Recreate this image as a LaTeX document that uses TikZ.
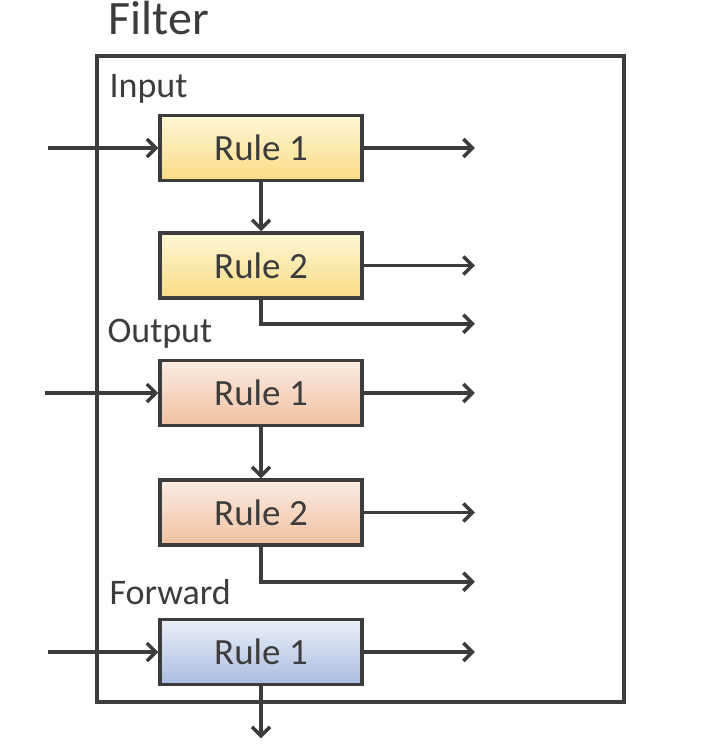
\documentclass[tikz,border=0pt]{standalone}
\usepackage{fontspec}
\setmainfont{Carlito}
\usetikzlibrary{positioning,arrows.meta}
\definecolor{ink}{HTML}{3C3C3C}
\definecolor{yellowtop}{HTML}{FFF6D5}
\definecolor{yellowbot}{HTML}{F8DC84}
\definecolor{orangetop}{HTML}{FBECE3}
\definecolor{orangebot}{HTML}{EFC1A1}
\definecolor{bluetop}{HTML}{EBEFF8}
\definecolor{bluebot}{HTML}{A9BCDF}
\begin{document}
\begin{tikzpicture}[
                x=1pt, y=-1pt,
                node distance=49pt,
                every node/.style={text=ink},
                >={Straight Barb[length=9pt,width=18pt]},
                rule/.style={
                    draw=ink,
                    line width=3.5pt,
                    minimum width=202pt,
                    minimum height=65pt,
                    inner sep=0pt,
                    font=\fontsize{37}{44}\selectfont
                },
                inrule/.style={rule, top color=yellowtop, bottom color=yellowbot},
                outrule/.style={rule, top color=orangetop, bottom color=orangebot},
                fwdrule/.style={rule, top color=bluetop, bottom color=bluebot},
                title/.style={anchor=base west, font=\fontsize{36}{43}\selectfont},
                arrow/.style={->, line width=3.5pt, draw=ink}
            ]
                \useasboundingbox (0,0) rectangle (708,746);
                % rahmen
                \draw[ink, line width=3.5pt] (97,56) rectangle (624,702);
                \node[anchor=base west, font=\fontsize{48}{58}\selectfont] (filter) at (105,35) {Filter};

                % Input
                \node[title] (input) at (106,98) {Input};
                \node[inrule] (in1) at (261,148) {Rule 1};
                \node[inrule, below=49pt of in1] (in2) {Rule 2};

                % Output
                \node[title] (output) at (104,342) {Output};
                \node[outrule, below=59pt of in2] (out1) {Rule 1};
                \node[outrule, below=51pt of out1] (out2) {Rule 2};

                % Forward
                \node[title] (forward) at (106,604) {Forward};
                \node[fwdrule, below=71pt of out2] (fwd1) {Rule 1};

                % freie Enden
                \coordinate[left=110pt of in1] (in1a);
                \coordinate[right=111pt of in1] (in1b);
                \coordinate[right=111pt of in2] (in2b);
                \coordinate[below right=24pt and 111pt of in2] (in2c);
                \coordinate[left=113pt of out1] (out1a);
                \coordinate[right=111pt of out1] (out1b);
                \coordinate[right=111pt of out2] (out2b);
                \coordinate[below right=35pt and 111pt of out2] (out2c);
                \coordinate[left=110pt of fwd1] (fwd1a);
                \coordinate[right=111pt of fwd1] (fwd1b);
                \coordinate[below=52pt of fwd1] (fwd1c);

                % Pfeile
                \draw[arrow] (in1a) -- (in1);
                \draw[arrow] (in1) -- (in1b);
                \draw[arrow] (in1) -- (in2);
                \draw[arrow] (in2) -- (in2b);
                \draw[arrow] (in2.south) |- (in2c);
                \draw[arrow] (out1a) -- (out1);
                \draw[arrow] (out1) -- (out1b);
                \draw[arrow] (out1) -- (out2);
                \draw[arrow] (out2) -- (out2b);
                \draw[arrow] (out2.south) |- (out2c);
                \draw[arrow] (fwd1a) -- (fwd1);
                \draw[arrow] (fwd1) -- (fwd1b);
                \draw[arrow] (fwd1) -- (fwd1c);
            \end{tikzpicture}
\end{document}
